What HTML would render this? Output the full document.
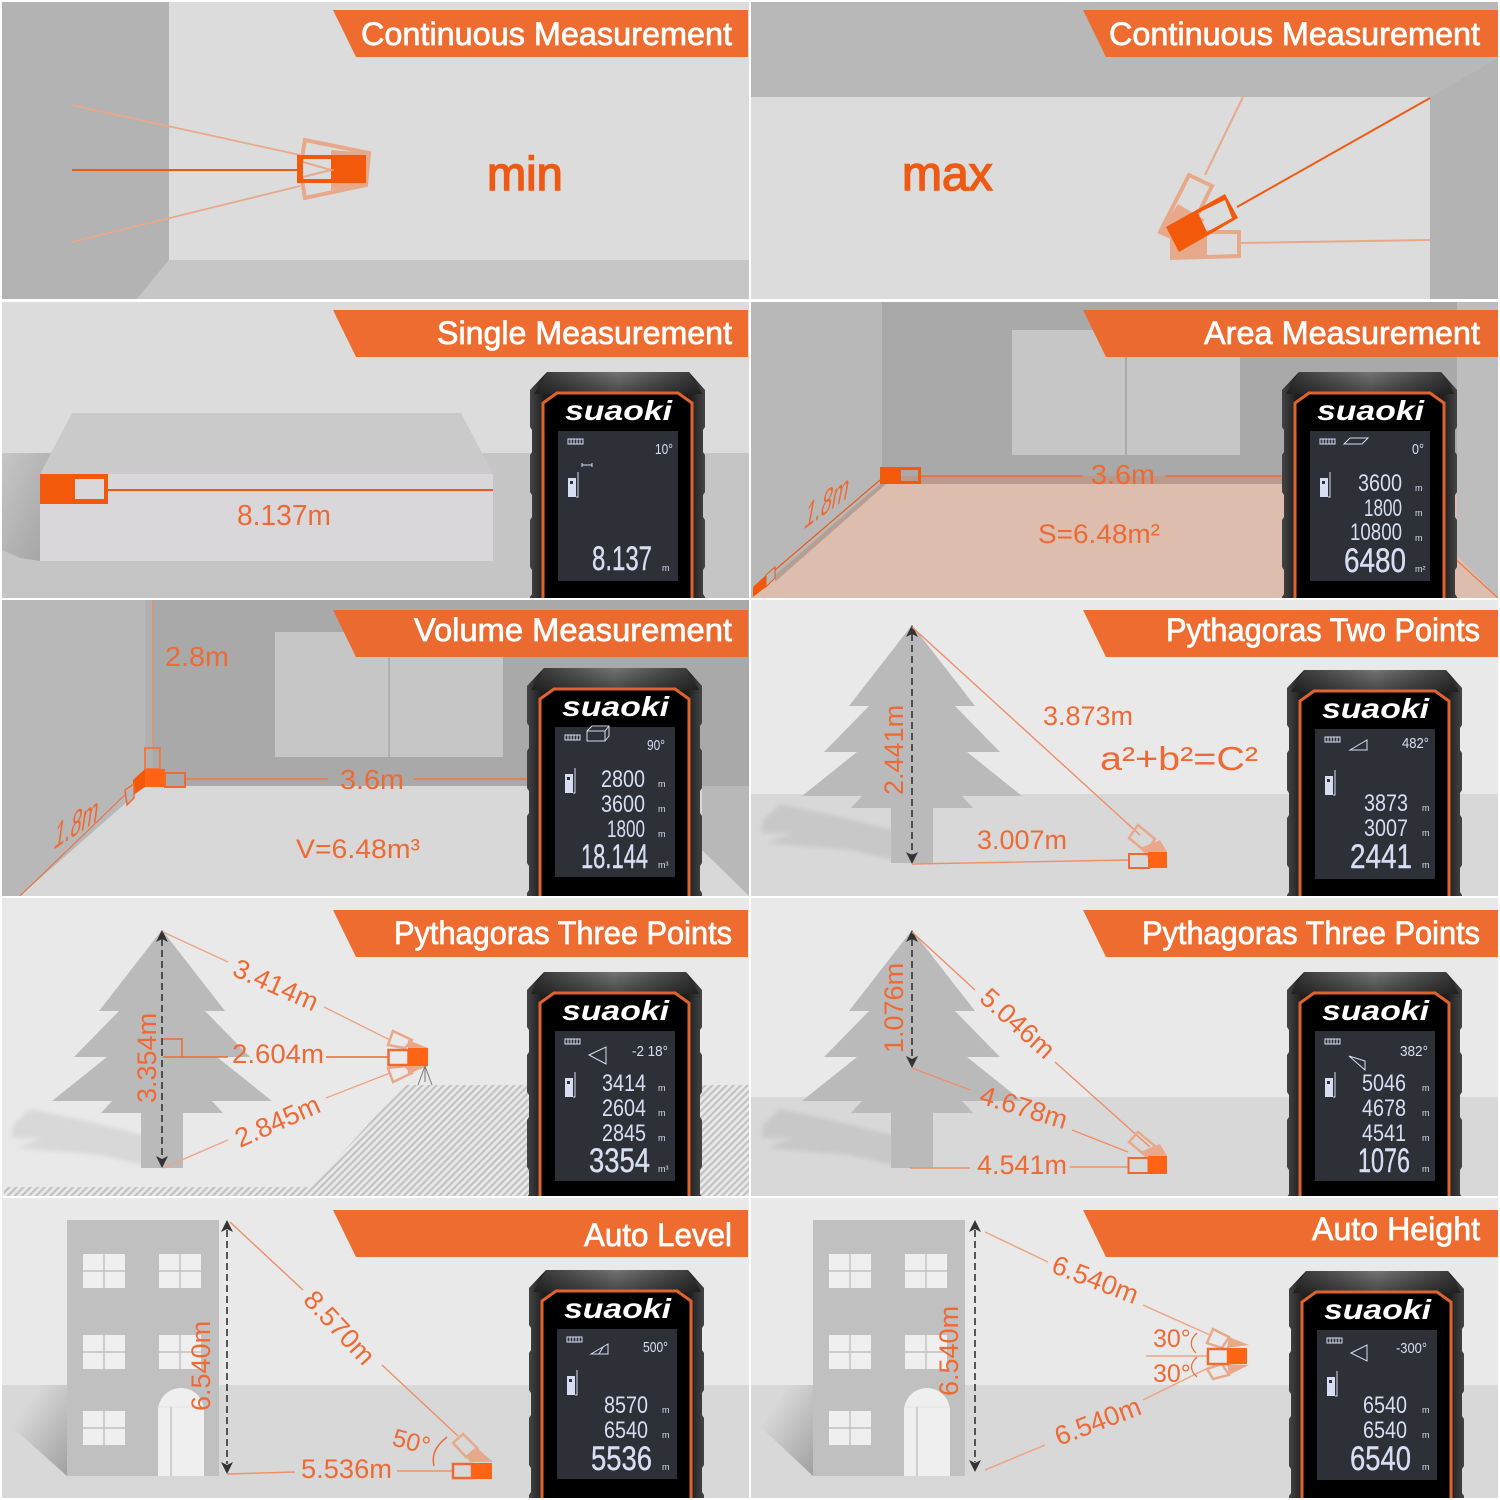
<!DOCTYPE html>
<html><head><meta charset="utf-8">
<style>
html,body{margin:0;padding:0;background:#fff}
svg{display:block}
text{font-family:"Liberation Sans",sans-serif}
.t{fill:#fff;font-size:32px;stroke:#fff;stroke-width:.7}
.o{fill:#ee6a35;font-size:27px}
.b{fill:#ee5a14;font-size:47px;stroke:#ee5a14;stroke-width:1.500}
.logo{fill:#fff;font-size:28px;font-weight:bold;font-style:italic}
.d{fill:#d7ddf3;font-size:24px}
.D{fill:#d7ddf3;font-size:34px;stroke:#d7ddf3;stroke-width:.4}
.a{fill:#d7ddf3;font-size:15px}
.m{fill:#d7ddf3;font-size:9px}
.l{stroke:#eda585;stroke-width:1.4;fill:none}
.s{stroke:#ee5a14;stroke-width:2;fill:none}
.f{stroke:#e8a98a;stroke-width:3;fill:none}
.g{fill:#e8a98a}
.h{fill:#ff6414}
.dash{stroke:#333;stroke-width:1.6;stroke-dasharray:7 4;fill:none}
.i{fill:none;stroke:#d7ddf3;stroke-width:1}
</style></head><body>
<svg xmlns="http://www.w3.org/2000/svg" width="1500" height="1500" viewBox="0 0 1500 1500">
<defs>
<linearGradient id="sg" x1="0" x2="1" y1="0" y2="0"><stop offset="0" stop-color="#444"/><stop offset=".08" stop-color="#1f1f1f"/><stop offset=".92" stop-color="#1f1f1f"/><stop offset="1" stop-color="#444"/></linearGradient>
<linearGradient id="tg" x1="0" x2="1" y1="0" y2="0"><stop offset="0" stop-color="#333"/><stop offset=".5" stop-color="#747474"/><stop offset="1" stop-color="#333"/></linearGradient>
<linearGradient id="vg" x1="0" x2="0" y1="0" y2="1"><stop offset="0" stop-color="#000" stop-opacity="0"/><stop offset="1" stop-color="#000" stop-opacity=".4"/></linearGradient>
<linearGradient id="boxsh" x1="0" x2="1" y1="0" y2="1"><stop offset="0" stop-color="#c6c6c6"/><stop offset="1" stop-color="#a2a2a2"/></linearGradient>
<linearGradient id="hsh" x1="0" x2="1" y1="0" y2="1"><stop offset=".3" stop-color="#d8d8d8"/><stop offset="1" stop-color="#a0a0a0"/></linearGradient>
<pattern id="hatch" width="5" height="5" patternUnits="userSpaceOnUse" patternTransform="rotate(45)"><rect width="5" height="5" fill="#e9e9e9"/><rect width="2.2" height="5" fill="#c2c2c2"/></pattern>
<filter id="bl" x="-20%" y="-20%" width="140%" height="140%"><feGaussianBlur stdDeviation="2"/></filter>
<g id="shell">
<path d="M17,0H159L175,18V55L173,58V80L175,83V120L173,123V145L175,148V195L173,198V222L175,225V260H0V225L2,222V198L0,195V148L2,145V123L0,120V83L2,80V58L0,55V18Z" fill="url(#sg)"/>
<path d="M17,0H159L172,22H4Z" fill="url(#tg)"/>
<path d="M17,0H159L172,22H4Z" fill="url(#vg)"/>
<path d="M13,260V31L27,21H148L162,31V260" fill="#000" stroke="#e0622c" stroke-width="3"/>
<rect x="28" y="59" width="120" height="150" fill="#2d3036"/>
<rect x="38" y="67" width="15" height="5" fill="none" stroke="#d7ddf3" stroke-width="1"/><path d="M41,67v5M44,67v5M47,67v5M50,67v5" class="i"/>
<rect x="38" y="106" width="8" height="19" fill="#d7ddf3"/><rect x="40" y="109" width="3" height="3" fill="#2d3036"/>
<path d="M48,100V125H46" class="i"/>
</g>
<polygon id="tree" points="0,0 63,81 43,81 88,127 55,127 110,171 50,171 61,183 21,183 21,238 -21,238 -21,183 -61,183 -50,171 -110,171 -55,127 -88,127 -43,81 -63,81" fill="#bababa"/>
<polygon id="shd" points="-149,195 -132,179 -80,190 -19,205 -19,235 -62,225 -145,218 -120,208 -150,208" filter="url(#bl)"/>
<g id="house">
<rect x="0" y="0" width="152" height="256" fill="#c0c0c0"/>
<path d="M16,34h42v34h-42zM92,34h42v34h-42zM16,115h42v34h-42zM92,115h42v34h-42zM16,191h42v34h-42z" fill="#efefef"/>
<path d="M37,34v34M16,51h42M113,34v34M92,51h42M37,115v34M16,132h42M113,115v34M92,132h42M37,191v34M16,208h42" stroke="#c0c0c0" stroke-width="1.4"/>
<path d="M91,256V191a23,23 0 0 1 46,0V256Z" fill="#efefef"/><path d="M104,187V256" stroke="#c0c0c0" stroke-width="1.4"/><path d="M91,187H137" stroke="#e0e0e0" stroke-width="1"/>
</g>
</defs>
<rect width="1500" height="1500" fill="#fff"/>

<!-- Row 1 left -->
<rect x="2" y="2" width="747" height="297" fill="#dcdcdc"/>
<polygon points="2,2 169,2 169,260 137,299 2,299" fill="#b3b3b3"/>
<polygon points="169,260 749,260 749,299 137,299" fill="#c6c6c6"/>
<path d="M72,105L300,155M72,242L300,186" style="stroke:#e8a98a;stroke-width:1.800;fill:none"/>
<path d="M72,170H300" class="s"/>
<path d="M305,140L369,153L366,185L305,198L300,170Z" class="f" style="stroke-width:4"/>
<polygon points="331,150 369,153 366,185 331,190" class="g"/>
<path d="M297,155H366V183H297ZM303,159V179H331V159Z" fill="#f2590a" fill-rule="evenodd"/>
<path d="M303,162L331,170L303,177" class="f" style="stroke-width:2"/>
<text class="b" x="487" y="190">min</text>
<polygon points="333,10 748,10 748,57 356,57" fill="#ee6c30"/>
<text class="t" x="361" y="45" textLength="371" lengthAdjust="spacingAndGlyphs">Continuous Measurement</text>

<!-- Row 1 right -->
<rect x="751" y="2" width="747" height="297" fill="#dcdcdc"/>
<polygon points="751,2 1498,2 1498,57 1430,97 751,97" fill="#b8b8b8"/>
<polygon points="1430,97 1498,57 1498,299 1430,299" fill="#b3b3b3"/>
<path d="M1243,97L1205,175M1240,243L1430,240" style="stroke:#e8a98a;stroke-width:2;fill:none"/>
<path d="M1237,207L1430,98" class="s"/>
<path d="M1189,175L1212,186L1196,218L1173,238L1160,232Z" class="f" style="stroke-width:4"/>
<polygon points="1159,232 1178,204 1205,220 1173,238" class="g"/>
<path d="M1172,258V232H1239V256Z" class="f" style="stroke-width:4"/>
<polygon points="1172,259 1172,232 1207,232 1207,258" class="g"/>
<path d="M1166,227L1225,194L1238,218L1179,252ZM1198,213L1207,232L1232,218L1225,200Z" fill="#f2590a" fill-rule="evenodd"/>
<text class="b" x="902" y="190" style="font-size:48px">max</text>
<polygon points="1083,10 1498,10 1498,57 1106,57" fill="#ee6c30"/>
<text class="t" x="1109" y="45" textLength="371" lengthAdjust="spacingAndGlyphs">Continuous Measurement</text>

<!-- Row 2 left -->
<rect x="2" y="302" width="747" height="296" fill="#dcdcdc"/>
<rect x="2" y="453" width="747" height="145" fill="#c5c5c5"/>
<polygon points="2,453 52,453 40,474 40,561 20,558 2,550" fill="url(#boxsh)"/>
<polygon points="40,474 72,413 461,413 493,474" fill="#cacaca"/>
<rect x="40" y="474" width="453" height="87" fill="#d9d7d9"/>
<path d="M108,490H493" class="s"/>
<path d="M40,474H108V504H40ZM75,479V499H104V479Z" fill="#f2590a" fill-rule="evenodd"/>
<text class="o" x="237" y="525" textLength="94" lengthAdjust="spacingAndGlyphs" style="font-size:29px">8.137m</text>
<polygon points="333,310 748,310 748,357 356,357" fill="#ee6c30"/>
<text class="t" x="437" y="344" textLength="295" lengthAdjust="spacingAndGlyphs">Single Measurement</text>
<g transform="translate(530,372)"><use href="#shell"/>
<text class="logo" x="35" y="48" textLength="107" lengthAdjust="spacingAndGlyphs">suaoki</text>
<text class="a" x="125" y="82" textLength="18" lengthAdjust="spacingAndGlyphs">10°</text>
<path d="M52,93H62M52,91v4M62,91v4" class="i"/>
<text class="D" x="62" y="198" textLength="60" lengthAdjust="spacingAndGlyphs">8.137</text>
<text class="m" x="132" y="199">m</text></g>

<!-- Row 2 right -->
<rect x="751" y="302" width="747" height="296" fill="#dcbdae"/>
<rect x="751" y="302" width="747" height="182" fill="#a9a9a9"/>
<polygon points="751,302 882,302 882,484 751,598" fill="#b8b8b8"/>
<polygon points="880,484 751,598 770,598 890,484" fill="#dcbdae"/>
<polygon points="880,484 775,575 775,582 886,484" fill="#b59f95"/>
<rect x="882" y="476" width="420" height="8" fill="#b99a8c"/>
<rect x="1012" y="330" width="228" height="125" fill="#c6c6c6"/>
<path d="M1126,330V455" stroke="#a9a9a9" stroke-width="2"/>
<polygon points="1457,555 1498,598 1498,302 1457,302" fill="#bdbdbd"/>
<path d="M1453,557L1498,598" style="stroke:#ee7a48;stroke-width:1.200;fill:none"/>
<path d="M880,480L775,570" style="stroke:#ee5a14;stroke-width:1.200;fill:none"/>
<path d="M920,476H1083M1165,476H1290" style="stroke:#ee6a35;stroke-width:1.500;fill:none"/>
<path d="M880,467H921V484H880ZM901,470V481H918V470Z" fill="#f2590a" fill-rule="evenodd"/>
<polygon points="753,587 766,575 766,587 753,597" fill="#f2590a"/>
<polygon points="766,575 775,567 775,578 766,587" fill="#b8b8b8" stroke="#ee5a14"/>
<text class="o" x="1091" y="484" textLength="64" lengthAdjust="spacingAndGlyphs" style="font-size:28px">3.6m</text>
<text class="o" x="1038" y="543" textLength="122" lengthAdjust="spacingAndGlyphs">S=6.48m²</text>
<text class="o" transform="matrix(.73,-.53,-.26,1.4,803,530)">1.8m</text>
<polygon points="1083,310 1498,310 1498,357 1106,357" fill="#ea6a30"/>
<text class="t" x="1204" y="344" textLength="276" lengthAdjust="spacingAndGlyphs">Area Measurement</text>
<g transform="translate(1282,372)"><use href="#shell"/>
<text class="logo" x="35" y="48" textLength="107" lengthAdjust="spacingAndGlyphs">suaoki</text>
<polygon points="62,72 68,66 86,66 80,72" class="i"/>
<text class="a" x="130" y="82" textLength="12" lengthAdjust="spacingAndGlyphs">0°</text>
<text class="d" x="76" y="119" textLength="44" lengthAdjust="spacingAndGlyphs">3600</text>
<text class="d" x="82" y="144" textLength="38" lengthAdjust="spacingAndGlyphs">1800</text>
<text class="d" x="68" y="168" textLength="52" lengthAdjust="spacingAndGlyphs">10800</text>
<text class="D" x="62" y="200" textLength="62" lengthAdjust="spacingAndGlyphs">6480</text>
<text class="m" x="133" y="119">m</text><text class="m" x="133" y="144">m</text><text class="m" x="133" y="169">m</text><text class="m" x="133" y="200">m²</text></g>

<!-- Row 3 left -->
<rect x="2" y="600" width="747" height="296" fill="#d8d8d8"/>
<rect x="2" y="600" width="747" height="186" fill="#a9a9a9"/>
<polygon points="2,600 145,600 145,786 20,896 2,896" fill="#b8b8b8"/>
<rect x="145" y="600" width="8" height="186" fill="#b0b0b0"/>
<polygon points="702,850 749,896 749,786 702,786" fill="#b8b8b8"/>
<rect x="275" y="632" width="228" height="125" fill="#c6c6c6"/>
<path d="M389,632V757" stroke="#a9a9a9" stroke-width="1.5"/>
<path d="M153,600V750" style="stroke:#e58a64;stroke-width:1.200;fill:none"/>
<path d="M185,779H328M413,779H527" style="stroke:#ee7a48;stroke-width:1.500;fill:none"/>
<path d="M130,790L20,896" style="stroke:#ee6a35;stroke-width:1;fill:none"/>
<rect x="145" y="748" width="15" height="21" fill="none" stroke="#ee7a48" stroke-width="2"/>
<rect x="165" y="773" width="20" height="14" fill="none" stroke="#ee6a35" stroke-width="2"/>
<polygon points="145,769 165,769 165,787 145,787" fill="#ff6414"/>
<polygon points="145,769 145,787 133,795 133,780" fill="#f2590a"/>
<polygon points="125,790 134,784 134,798 127,805" fill="#b8b8b8" stroke="#ee6a35" stroke-width="1.5"/>
<text class="o" x="165" y="666" textLength="64" lengthAdjust="spacingAndGlyphs" style="font-size:28px">2.8m</text>
<text class="o" x="340" y="789" textLength="64" lengthAdjust="spacingAndGlyphs" style="font-size:28px">3.6m</text>
<text class="o" x="296" y="858" textLength="124" lengthAdjust="spacingAndGlyphs">V=6.48m³</text>
<text class="o" transform="matrix(.73,-.48,-.2,1.4,53,850)">1.8m</text>
<polygon points="333,610 748,610 748,657 356,657" fill="#ea6a30"/>
<text class="t" x="414" y="641" textLength="318" lengthAdjust="spacingAndGlyphs">Volume Measurement</text>
<g transform="translate(527,668)"><use href="#shell"/>
<text class="logo" x="35" y="48" textLength="107" lengthAdjust="spacingAndGlyphs">suaoki</text>
<path d="M60,73V63H78V73ZM60,63L65,58H82V68L78,73M78,63L82,58" class="i"/>
<text class="a" x="120" y="82" textLength="18" lengthAdjust="spacingAndGlyphs">90°</text>
<text class="d" x="74" y="119" textLength="44" lengthAdjust="spacingAndGlyphs">2800</text>
<text class="d" x="74" y="144" textLength="44" lengthAdjust="spacingAndGlyphs">3600</text>
<text class="d" x="80" y="169" textLength="38" lengthAdjust="spacingAndGlyphs">1800</text>
<text class="D" x="54" y="200" textLength="67" lengthAdjust="spacingAndGlyphs">18.144</text>
<text class="m" x="131" y="119">m</text><text class="m" x="131" y="144">m</text><text class="m" x="131" y="169">m</text><text class="m" x="131" y="200">m³</text></g>

<!-- Row 3 right -->
<rect x="751" y="600" width="747" height="296" fill="#e9e9e9"/>
<rect x="751" y="794" width="747" height="102" fill="#d8d8d8"/>
<use href="#shd" x="912" y="625" fill="#c8c8c8"/>
<use href="#tree" x="912" y="625"/>
<path d="M912,634V856" class="dash"/>
<path d="M912,625l-6,12l6,-3l6,3zM912,864l-6,-12l6,3l6,-3z" fill="#333"/>
<path d="M912,627L1140,835M912,864L1128,860" class="l" style="stroke:#ee8f68"/>
<path d="M1138,825L1155,839L1146,852L1129,838Z" class="f" style="stroke-width:2.500"/>
<polygon points="1140,848 1160,840 1167,852 1148,858" class="g"/>
<rect x="1129" y="854" width="20" height="14" fill="none" stroke="#ee6a35" stroke-width="2"/>
<rect x="1148" y="852" width="19" height="16" class="h"/>
<text class="o" transform="translate(903,795) rotate(-90)">2.441m</text>
<text class="o" x="1043" y="725" textLength="90" lengthAdjust="spacingAndGlyphs">3.873m</text>
<text class="o" x="1100" y="770" textLength="158" lengthAdjust="spacingAndGlyphs" style="font-size:33px">a²+b²=C²</text>
<text class="o" x="977" y="849" textLength="90" lengthAdjust="spacingAndGlyphs">3.007m</text>
<polygon points="1083,610 1498,610 1498,657 1106,657" fill="#ee6c30"/>
<text class="t" x="1166" y="641" textLength="314" lengthAdjust="spacingAndGlyphs">Pythagoras Two Points</text>
<g transform="translate(1287,670)"><use href="#shell"/>
<text class="logo" x="35" y="48" textLength="107" lengthAdjust="spacingAndGlyphs">suaoki</text>
<path d="M63,80L80,70V80Z" class="i"/>
<text class="a" x="115" y="78" textLength="27" lengthAdjust="spacingAndGlyphs">482°</text>
<text class="d" x="77" y="141" textLength="44" lengthAdjust="spacingAndGlyphs">3873</text>
<text class="d" x="77" y="166" textLength="44" lengthAdjust="spacingAndGlyphs">3007</text>
<text class="D" x="63" y="198" textLength="62" lengthAdjust="spacingAndGlyphs">2441</text>
<text class="m" x="135" y="141">m</text><text class="m" x="135" y="166">m</text><text class="m" x="135" y="198">m</text></g>

<!-- Row 4 left -->
<rect x="2" y="898" width="747" height="298" fill="#e9e9e9"/>
<polygon points="311,1187 404,1085 749,1085 749,1197 4,1197 4,1187" fill="url(#hatch)"/>
<use href="#shd" x="162" y="930" fill="#d8d8d8"/>
<use href="#tree" x="162" y="930"/>
<path d="M162,939V1159" class="dash"/>
<path d="M162,930l-6,12l6,-3l6,3zM162,1168l-6,-12l6,3l6,-3z" fill="#333"/>
<path d="M163,932L228,962M324,1007L390,1040M163,1168L228,1140M326,1098L390,1073" class="l"/>
<path d="M163,1039H182V1057M163,1057H228M326,1057H388" style="stroke:#ee6a35;stroke-width:1.600;fill:none"/>
<path d="M393,1031L412,1040L405,1048L388,1045ZM388,1068L405,1066L412,1073L393,1082Z" class="f" style="stroke-width:2.500"/>
<polygon points="408,1040 428,1048 408,1048" class="g"/><polygon points="408,1066 428,1066 408,1074" class="g"/>
<path d="M425,1066L418,1085M425,1066L432,1085M425,1066V1082" stroke="#777" stroke-width="1" fill="none"/>
<rect x="388.500" y="1050" width="20" height="15" fill="none" stroke="#ee6a35" stroke-width="2.500"/>
<rect x="408" y="1048" width="20" height="18" class="h"/>
<text class="o" transform="translate(231,975) rotate(24)">3.414m</text>
<text class="o" x="232" y="1063" textLength="92" lengthAdjust="spacingAndGlyphs">2.604m</text>
<text class="o" transform="translate(240,1148) rotate(-24)">2.845m</text>
<text class="o" transform="translate(156,1103) rotate(-90)">3.354m</text>
<polygon points="333,910 748,910 748,957 356,957" fill="#ee6c30"/>
<text class="t" x="394" y="944" textLength="338" lengthAdjust="spacingAndGlyphs">Pythagoras Three Points</text>
<g transform="translate(527,972)"><use href="#shell"/>
<text class="logo" x="35" y="48" textLength="107" lengthAdjust="spacingAndGlyphs">suaoki</text>
<path d="M62,83L79,75V92Z" class="i"/>
<text class="a" x="105" y="84" textLength="36" lengthAdjust="spacingAndGlyphs">-2 18°</text>
<text class="d" x="75" y="119" textLength="44" lengthAdjust="spacingAndGlyphs">3414</text>
<text class="d" x="75" y="144" textLength="44" lengthAdjust="spacingAndGlyphs">2604</text>
<text class="d" x="75" y="169" textLength="44" lengthAdjust="spacingAndGlyphs">2845</text>
<text class="D" x="62" y="200" textLength="61" lengthAdjust="spacingAndGlyphs">3354</text>
<text class="m" x="131" y="119">m</text><text class="m" x="131" y="144">m</text><text class="m" x="131" y="169">m</text><text class="m" x="131" y="200">m³</text></g>

<!-- Row 4 right -->
<rect x="751" y="898" width="747" height="298" fill="#e9e9e9"/>
<rect x="751" y="1097" width="747" height="99" fill="#d8d8d8"/>
<use href="#shd" x="912" y="930" fill="#c8c8c8"/>
<use href="#tree" x="912" y="930"/>
<path d="M912,939V1059" class="dash"/>
<path d="M912,930l-6,12l6,-3l6,3zM912,1068l-6,-12l6,3l6,-3z" fill="#333"/>
<path d="M912,932L975,990M1055,1062L1150,1147M912,1068L970,1090M1072,1130L1128,1152M910,1168H970M1070,1167H1128" class="l" style="stroke:#ee8f68"/>
<path d="M1138,1132L1155,1146L1146,1156L1129,1142Z" class="f" style="stroke-width:2.500"/>
<polygon points="1140,1152 1160,1144 1167,1156 1148,1160" class="g"/>
<rect x="1128.500" y="1158" width="20" height="15" fill="none" stroke="#ee6a35" stroke-width="2"/>
<rect x="1148" y="1156" width="19" height="18" class="h"/>
<text class="o" transform="translate(978,1000) rotate(42)">5.046m</text>
<text class="o" transform="translate(978,1103) rotate(17)">4.678m</text>
<text class="o" x="977" y="1174" textLength="90" lengthAdjust="spacingAndGlyphs">4.541m</text>
<text class="o" transform="translate(903,1053) rotate(-90)">1.076m</text>
<polygon points="1083,910 1498,910 1498,957 1106,957" fill="#ee6c30"/>
<text class="t" x="1142" y="944" textLength="338" lengthAdjust="spacingAndGlyphs">Pythagoras Three Points</text>
<g transform="translate(1287,972)"><use href="#shell"/>
<text class="logo" x="35" y="48" textLength="107" lengthAdjust="spacingAndGlyphs">suaoki</text>
<path d="M62,84L78,89V98Z" class="i"/>
<text class="a" x="113" y="84" textLength="28" lengthAdjust="spacingAndGlyphs">382°</text>
<text class="d" x="75" y="119" textLength="44" lengthAdjust="spacingAndGlyphs">5046</text>
<text class="d" x="75" y="144" textLength="44" lengthAdjust="spacingAndGlyphs">4678</text>
<text class="d" x="75" y="169" textLength="44" lengthAdjust="spacingAndGlyphs">4541</text>
<text class="D" x="71" y="200" textLength="52" lengthAdjust="spacingAndGlyphs">1076</text>
<text class="m" x="135" y="119">m</text><text class="m" x="135" y="144">m</text><text class="m" x="135" y="169">m</text><text class="m" x="135" y="200">m</text></g>

<!-- Row 5 left -->
<rect x="2" y="1198" width="747" height="300" fill="#e9e9e9"/>
<rect x="2" y="1385" width="747" height="113" fill="#d8d8d8"/>
<polygon points="2,1385 67,1385 67,1476 2,1418" fill="url(#hsh)"/>
<use href="#house" x="67" y="1220"/>
<path d="M227,1230V1464" class="dash"/>
<path d="M227,1220l-6,12l6,-3l6,3zM227,1474l-6,-12l6,3l6,-3z" fill="#333"/>
<path d="M230,1222L303,1290M382,1365L458,1436M227,1474L295,1472M397,1471H452" class="l" style="stroke:#ee8f68"/>
<polygon points="453,1443 463,1434 477,1448 466,1457" class="f" style="stroke-width:2.500"/>
<polygon points="477,1448 493,1462 470,1462 466,1457" class="g"/>
<rect x="453" y="1464" width="19" height="14" fill="none" stroke="#ee6a35" stroke-width="2.500"/>
<rect x="472" y="1463" width="20" height="16" class="h"/>
<text class="o" transform="translate(302,1301) rotate(47)">8.570m</text>
<text class="o" x="301" y="1478" textLength="91" lengthAdjust="spacingAndGlyphs">5.536m</text>
<text class="o" transform="translate(391,1445) rotate(15)" style="font-size:25px">50°</text>
<path d="M447,1437Q430,1450 434,1466" style="stroke:#ee6a35;stroke-width:1.500;fill:none"/>
<text class="o" transform="translate(210,1411) rotate(-90)">6.540m</text>
<polygon points="333,1210 748,1210 748,1257 356,1257" fill="#ee6c30"/>
<text class="t" x="584" y="1246" textLength="148" lengthAdjust="spacingAndGlyphs">Auto Level</text>
<g transform="translate(529,1270)"><use href="#shell"/>
<text class="logo" x="35" y="48" textLength="107" lengthAdjust="spacingAndGlyphs">suaoki</text>
<path d="M62,84L79,74V84ZM70,84L74,77" class="i"/>
<text class="a" x="114" y="82" textLength="25" lengthAdjust="spacingAndGlyphs">500°</text>
<text class="d" x="75" y="143" textLength="44" lengthAdjust="spacingAndGlyphs">8570</text>
<text class="d" x="75" y="168" textLength="44" lengthAdjust="spacingAndGlyphs">6540</text>
<text class="D" x="62" y="200" textLength="61" lengthAdjust="spacingAndGlyphs">5536</text>
<text class="m" x="133" y="143">m</text><text class="m" x="133" y="168">m</text><text class="m" x="133" y="200">m</text></g>

<!-- Row 5 right -->
<rect x="751" y="1198" width="747" height="300" fill="#e9e9e9"/>
<rect x="751" y="1385" width="747" height="113" fill="#d8d8d8"/>
<polygon points="751,1385 813,1385 813,1476 751,1418" fill="url(#hsh)"/>
<use href="#house" x="813" y="1220"/>
<path d="M975,1230V1462" class="dash"/>
<path d="M975,1220l-6,12l6,-3l6,3zM975,1472l-6,-12l6,3l6,-3z" fill="#333"/>
<path d="M985,1232L1048,1262M1143,1305L1210,1335M1146,1356H1207M985,1470L1045,1445M1143,1400L1210,1367" class="l" style="stroke-width:1.500"/>
<polygon points="1213,1329 1229,1337 1222,1348 1207,1343" class="f" style="stroke-width:2.500"/>
<polygon points="1207,1369 1222,1364 1229,1375 1213,1379" class="f" style="stroke-width:2.500"/>
<polygon points="1229,1337 1249,1345 1227,1348" class="g"/><polygon points="1227,1364 1249,1365 1229,1375" class="g"/>
<rect x="1208" y="1349" width="20" height="15" fill="none" stroke="#ee6a35" stroke-width="2.500"/>
<rect x="1227" y="1348" width="20" height="16" class="h"/>
<text class="o" transform="translate(1050,1272) rotate(21)">6.540m</text>
<text class="o" transform="translate(1059,1446) rotate(-21)">6.540m</text>
<text class="o" x="1153" y="1347" style="font-size:25px">30°</text>
<text class="o" x="1153" y="1382" style="font-size:25px">30°</text>
<path d="M1197,1333Q1186,1343 1196,1353M1197,1357Q1186,1367 1197,1377" style="stroke:#ee6a35;stroke-width:1.200;fill:none"/>
<text class="o" transform="translate(958,1396) rotate(-90)">6.540m</text>
<polygon points="1083,1210 1498,1210 1498,1257 1106,1257" fill="#ee6c30"/>
<text class="t" x="1312" y="1240" textLength="168" lengthAdjust="spacingAndGlyphs">Auto Height</text>
<g transform="translate(1289,1271)"><use href="#shell"/>
<text class="logo" x="35" y="48" textLength="107" lengthAdjust="spacingAndGlyphs">suaoki</text>
<path d="M62,82L78,74V90Z" class="i"/>
<text class="a" x="107" y="82" textLength="31" lengthAdjust="spacingAndGlyphs">-300°</text>
<text class="d" x="74" y="142" textLength="44" lengthAdjust="spacingAndGlyphs">6540</text>
<text class="d" x="74" y="167" textLength="44" lengthAdjust="spacingAndGlyphs">6540</text>
<text class="D" x="61" y="199" textLength="61" lengthAdjust="spacingAndGlyphs">6540</text>
<text class="m" x="133" y="142">m</text><text class="m" x="133" y="167">m</text><text class="m" x="133" y="199">m</text></g>

<!-- gutters -->
<path d="M0,0H1500V2H0ZM0,299H1500V302H0ZM0,598H1500V600H0ZM0,896H1500V898H0ZM0,1196H1500V1198H0ZM0,1498H1500V1500H0ZM0,0H2V1500H0ZM749,0H751V1500H749ZM1498,0H1500V1500H1498Z" fill="#fff"/>
</svg>
</body></html>
